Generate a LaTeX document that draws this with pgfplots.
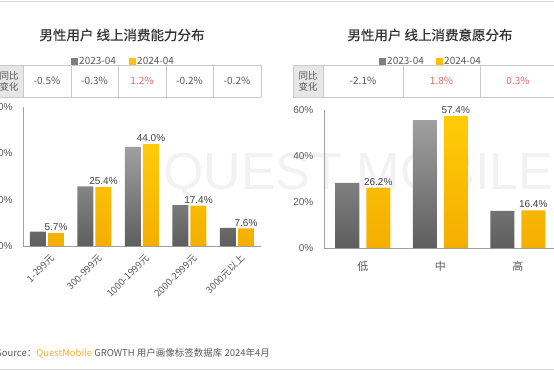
\documentclass[border=0pt]{standalone}
\usepackage{pgfplots}
\pgfplotsset{compat=1.18}
\usepackage{fontspec}
\setmainfont{Noto Sans CJK SC}
\newfontfamily\titlefont[FakeBold=0.6]{Noto Sans CJK SC}
\newfontfamily\arial{Liberation Sans}
\definecolor{gTop}{HTML}{A0A0A0}
\definecolor{gBot}{HTML}{5E5E5E}
\definecolor{yTop}{HTML}{FFCC08}
\definecolor{yBot}{HTML}{F4AE00}
\definecolor{txt}{HTML}{595959}
\definecolor{lbl}{HTML}{404040}
\definecolor{gridc}{HTML}{CACACA}
\definecolor{hdr}{HTML}{E6E6E6}
\definecolor{redv}{HTML}{E06A6A}
\definecolor{qm}{HTML}{F0B23C}
\definecolor{ttl}{HTML}{333333}
\definecolor{legG}{HTML}{7F7F7F}
\definecolor{legY}{HTML}{FFC000}

\pgfplotstableread{
x v23 v24
0 6.2 5.7
1 25.7 25.4
2 42.8 44.0
3 17.6 17.4
4 7.8 7.6
}\lefttab
\pgfplotstableread{
x v23 v24
0 28.3 26.2
1 55.6 57.4
2 16.1 16.4
}\righttab

\pgfplotsset{
  qmaxis/.style={
    scale only axis,
    axis lines=left,
    axis line style={draw=gray!75, -, line width=0.8pt},
    tick style={draw=none},
    ymin=0, ymax=60, ytick={0,20,40,60},
    yticklabel={\pgfmathprintnumber{\tick}\%},
    yticklabel style={font=\arial\fontsize{10}{12}\selectfont, text=txt, xshift=-5pt},
    /pgf/number format/assume math mode=true,
    xtick=data,
    clip=false,
  }
}

\begin{document}
\begin{tikzpicture}
\useasboundingbox (0,0) rectangle (554pt,370pt);
\clip (0,0) rectangle (554pt,370pt);

% frame lines
\draw[gridc!80, line width=0.8pt] (0,369pt) -- (554pt,369pt);
\draw[gridc!80, line width=0.8pt] (0,1pt) -- (554pt,1pt);

% watermark
\node[anchor=base west, inner sep=0, text=black!5, font=\arial\fontsize{52}{52}\selectfont] at (163pt,180pt) {QUEST MOBILE};

% titles
\node[text=ttl, font=\titlefont\fontsize{13.5}{15}\selectfont] at (122pt,335pt) {男性用户 线上消费能力分布};
\node[text=ttl, font=\titlefont\fontsize{13.5}{15}\selectfont] at (430pt,335pt) {男性用户 线上消费意愿分布};

% legends
\fill[legG] (71pt,305pt) rectangle (78pt,312pt);
\node[anchor=west, inner sep=0, text=txt, font=\fontsize{10}{12}\selectfont] at (79pt,309pt) {2023-04};
\fill[legY] (128.5pt,305pt) rectangle (135.5pt,312pt);
\node[anchor=west, inner sep=0, text=txt, font=\fontsize{10}{12}\selectfont] at (137pt,309pt) {2024-04};
\fill[legG] (379pt,305pt) rectangle (386pt,312pt);
\node[anchor=west, inner sep=0, text=txt, font=\fontsize{10}{12}\selectfont] at (387pt,309pt) {2023-04};
\fill[legY] (436pt,305pt) rectangle (443pt,312pt);
\node[anchor=west, inner sep=0, text=txt, font=\fontsize{10}{12}\selectfont] at (444pt,309pt) {2024-04};

% left table
\fill[hdr] (0,273pt) rectangle (23pt,305pt);
\draw[gridc, line width=0.6pt] (0,305pt) -- (261pt,305pt) (0,273pt) -- (261pt,273pt);
\foreach \xx in {23,71,118,166,213,261} \draw[gridc, line width=0.6pt] (\xx pt,273pt) -- (\xx pt,305pt);
\node[align=center, text=txt, font=\fontsize{9.5}{11}\selectfont, inner sep=0] at (9pt,289pt) {同比\\变化};
\begin{scope}[every node/.style={text=txt, font=\fontsize{10}{12}\selectfont}]
\node at (47pt,289pt) {-0.5\%};
\node at (94.5pt,289pt) {-0.3\%};
\node[text=redv] at (142pt,289pt) {1.2\%};
\node at (189.5pt,289pt) {-0.2\%};
\node at (237pt,289pt) {-0.2\%};
\end{scope}

% right table
\fill[hdr] (293pt,273pt) rectangle (323pt,305pt);
\draw[gridc, line width=0.6pt] (293pt,305pt) -- (554pt,305pt) (293pt,273pt) -- (554pt,273pt);
\foreach \xx in {293,323,403,480} \draw[gridc, line width=0.6pt] (\xx pt,273pt) -- (\xx pt,305pt);
\node[align=center, text=txt, font=\fontsize{9.5}{11}\selectfont, inner sep=0] at (308pt,289pt) {同比\\变化};
\begin{scope}[every node/.style={text=txt, font=\fontsize{10}{12}\selectfont}]
\node at (363pt,289pt) {-2.1\%};
\node[text=redv] at (441.5pt,289pt) {1.8\%};
\node[text=redv] at (518pt,289pt) {0.3\%};
\end{scope}

% left axis
\begin{axis}[qmaxis,
  at={(23.25pt,124pt)}, anchor=south west,
  width=237.5pt, height=139pt,
  xmin=-0.5, xmax=4.5,
  ybar=2pt, bar width=16pt,
  xticklabels={1-299元,300-999元,1000-1999元,2000-2999元,3000元以上},
  xticklabel style={xshift=8pt, yshift=-4pt, rotate=45, anchor=east, text=txt, font=\fontsize{9.5}{11}\selectfont},
]
\addplot[draw=none, top color=gTop, bottom color=gBot] table[x=x, y=v23] {\lefttab};
\addplot[draw=none, top color=yTop, bottom color=yBot,
  nodes near coords={\pgfmathprintnumber[fixed,fixed zerofill,precision=1]{\pgfplotspointmeta}\%},
  every node near coord/.append style={text=lbl, font=\arial\fontsize{10}{12}\selectfont, inner sep=1pt, yshift=1pt},
  ] table[x=x, y=v24] {\lefttab};
\end{axis}

% right axis
\begin{axis}[qmaxis,
  at={(324pt,122pt)}, anchor=south west,
  width=232.5pt, height=138pt,
  xmin=-0.5, xmax=2.5,
  ybar=7pt, bar width=24pt,
  xticklabels={低,中,高},
  xticklabel style={text=txt, font=\fontsize{11}{13}\selectfont, yshift=-5pt},
]
\addplot[draw=none, top color=gTop, bottom color=gBot] table[x=x, y=v23] {\righttab};
\addplot[draw=none, top color=yTop, bottom color=yBot,
  nodes near coords={\pgfmathprintnumber[fixed,fixed zerofill,precision=1]{\pgfplotspointmeta}\%},
  every node near coord/.append style={text=lbl, font=\arial\fontsize{10}{12}\selectfont, inner sep=1pt, yshift=1pt},
  ] table[x=x, y=v24] {\righttab};
\end{axis}

% source
\node[anchor=west, inner sep=0, font=\fontsize{9.5}{11}\selectfont, text=txt] at (-4pt,17pt) {Source：\textcolor{qm}{QuestMobile} GROWTH 用户画像标签数据库 2024年4月};
\end{tikzpicture}
\end{document}
